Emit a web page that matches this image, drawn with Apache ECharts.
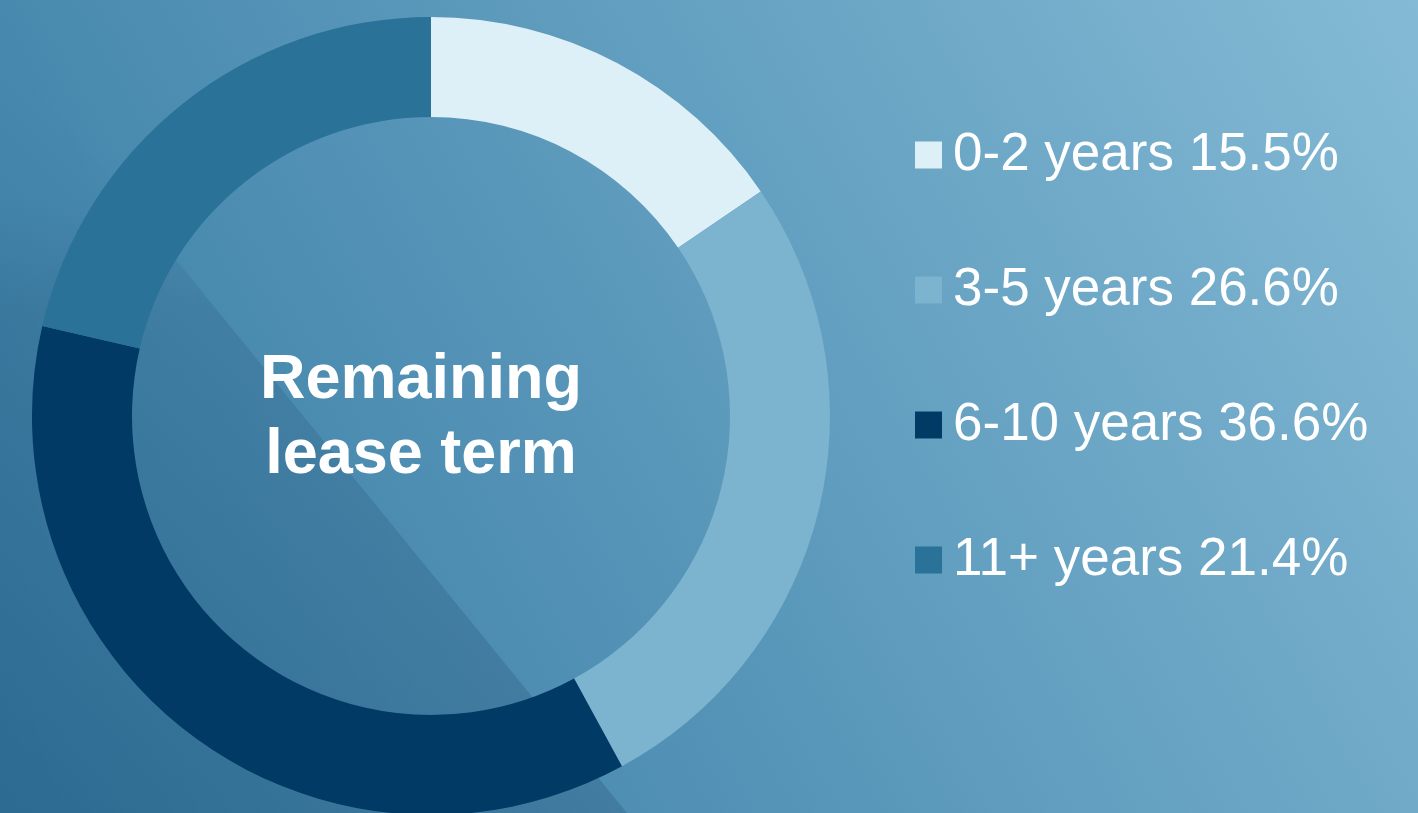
<!DOCTYPE html>
<html>
<head>
<meta charset="utf-8">
<title>Remaining lease term</title>
<script src="https://cdn.jsdelivr.net/npm/echarts@6/dist/echarts.min.js"></script>
<style>
  html, body { margin: 0; padding: 0; }
  #chart { width: 1418px; height: 813px; }
</style>
</head>
<body>
<div id="chart"></div>
<script>
// Lease expiry buckets and their share of the portfolio (%)
const categories = ['0-2 years', '3-5 years', '6-10 years', '11+ years'];
const shares = [15.5, 26.6, 36.6, 21.4];
const sliceColors = ['#ddf0f8', '#7cb3ce', '#003a65', '#2a7298'];
const centerTitle = 'Remaining\nlease term';

const W = 1418, H = 813;
const FONT = '"Liberation Sans", Arial, Helvetica, sans-serif';

const chart = echarts.init(document.getElementById('chart'), null, { renderer: 'canvas' });

const pieData = categories.map((name, i) => ({
  name: name,
  value: shares[i],
  itemStyle: { color: sliceColors[i] }
}));

const shareByName = {};
categories.forEach((c, i) => { shareByName[c] = shares[i]; });

chart.setOption({
  animation: false,
  graphic: [
    {
      // backdrop: diagonal blue gradient
      type: 'rect',
      z: -10,
      silent: true,
      shape: { x: 0, y: 0, width: W, height: H },
      style: {
        fill: new echarts.graphic.LinearGradient(0, 1, 1, 0, [
          { offset: 0, color: '#3479a2' },
          { offset: 1, color: '#84bad5' }
        ])
      }
    },
    {
      // darker diagonal band on the lower-left side, fading out towards the top
      type: 'polygon',
      z: -9,
      silent: true,
      shape: { points: [[0, 44], [627, H], [0, H]] },
      style: {
        fill: new echarts.graphic.LinearGradient(0, 0, 0, 1, [
          { offset: 0, color: 'rgba(8, 40, 72, 0)' },
          { offset: 0.2, color: 'rgba(8, 40, 72, 0.02)' },
          { offset: 0.35, color: 'rgba(8, 40, 72, 0.12)' },
          { offset: 1, color: 'rgba(8, 40, 72, 0.18)' }
        ])
      }
    },
    {
      type: 'text',
      z: 10,
      silent: true,
      x: 421,
      y: 418,
      style: {
        text: centerTitle,
        fill: '#ffffff',
        font: 'bold 63px ' + FONT,
        lineHeight: 75,
        align: 'center',
        verticalAlign: 'middle'
      }
    }
  ],
  legend: {
    orient: 'vertical',
    left: 910,
    top: 120,
    itemWidth: 27,
    itemHeight: 27,
    itemGap: 75,
    icon: 'rect',
    selectedMode: false,
    data: categories,
    formatter: function (name) {
      return name + ' ' + shareByName[name].toFixed(1) + '%';
    },
    textStyle: {
      color: '#ffffff',
      fontFamily: FONT,
      fontSize: 53,
      lineHeight: 60,
      padding: [0, 0, 0, 6]
    }
  },
  series: [
    {
      type: 'pie',
      center: [431, 416],
      radius: [299, 399],
      startAngle: 90,
      clockwise: true,
      avoidLabelOverlap: false,
      silent: true,
      label: { show: false },
      labelLine: { show: false },
      emphasis: { disabled: true },
      itemStyle: { borderWidth: 0 },
      data: pieData
    }
  ]
});
</script>
</body>
</html>
